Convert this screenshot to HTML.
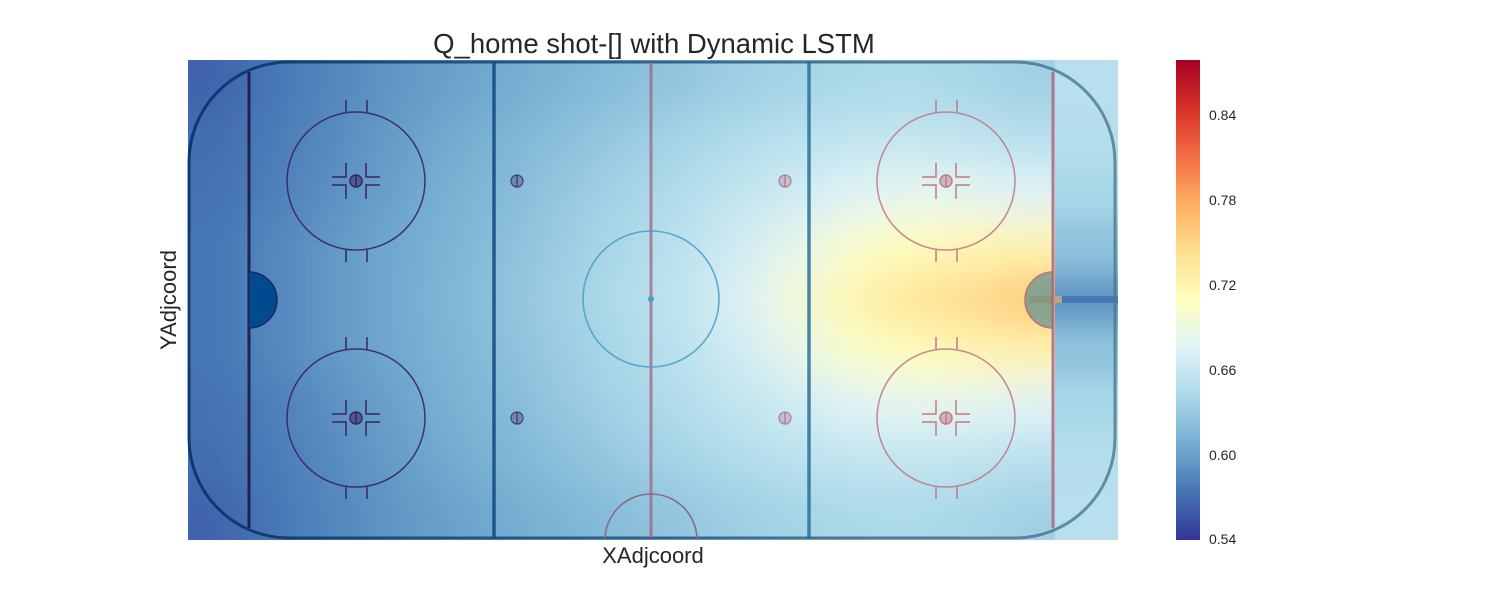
<!DOCTYPE html>
<html><head><meta charset="utf-8"><style>
body{margin:0;background:#fff;font-family:"Liberation Sans",sans-serif}
svg text{font-family:"Liberation Sans",sans-serif}
</style></head><body>
<svg id="chart" width="1500" height="600" xmlns="http://www.w3.org/2000/svg">
<defs>
<filter id="blur" x="60" y="-80" width="1130" height="760" filterUnits="userSpaceOnUse"><feGaussianBlur stdDeviation="22"/></filter>
<filter id="blur2" x="1000" y="-80" width="200" height="760" filterUnits="userSpaceOnUse"><feGaussianBlur stdDeviation="14"/></filter>
<clipPath id="mainClip"><rect x="188" y="60" width="867" height="480"/></clipPath>
<clipPath id="netClip"><rect x="1055" y="60" width="63" height="480"/></clipPath>
<linearGradient id="cbar" x1="0" y1="1" x2="0" y2="0">
<stop offset="0" stop-color="#313695"/><stop offset="0.1" stop-color="#4575b4"/><stop offset="0.2" stop-color="#74add1"/><stop offset="0.3" stop-color="#abd9e9"/><stop offset="0.4" stop-color="#e0f3f8"/><stop offset="0.5" stop-color="#ffffbf"/><stop offset="0.6" stop-color="#fee090"/><stop offset="0.7" stop-color="#fdae61"/><stop offset="0.8" stop-color="#f46d43"/><stop offset="0.9" stop-color="#d73027"/><stop offset="1" stop-color="#a50026"/>
</linearGradient>
<linearGradient id="boardGrad" x1="0" y1="0" x2="1" y2="0">
<stop offset="0" stop-color="#002a60"/><stop offset="0.5" stop-color="#1a4a7a"/><stop offset="1" stop-color="#4a7a90"/>
</linearGradient>
</defs>
<text x="654" y="53" text-anchor="middle" font-size="27.5" fill="#262626">Q_home shot-[] with Dynamic LSTM</text>
<g id="heat"></g>
<g id="rink" fill="none">
<rect x="189" y="62" width="926" height="476" rx="100" stroke="url(#boardGrad)" stroke-width="3" opacity="0.8"/>
<line x1="249" y1="72" x2="249" y2="528" stroke="#1e1040" stroke-width="3" opacity="0.85"/>
<line x1="1053" y1="72" x2="1053" y2="528" stroke="#b06a80" stroke-width="3" opacity="0.9"/>
<line x1="494" y1="62" x2="494" y2="538" stroke="#0d4a80" stroke-width="3.5" opacity="0.85"/>
<line x1="809" y1="62" x2="809" y2="538" stroke="#1e6a96" stroke-width="3.5" opacity="0.8"/>
<line x1="651" y1="62" x2="651" y2="538" stroke="#a05c78" stroke-width="3" opacity="0.7"/>
<circle cx="651" cy="299" r="68" stroke="#4a9ec4" stroke-width="1.6" opacity="0.85"/>
<circle cx="651" cy="299" r="3" fill="#4a9ec4"/>
<path d="M605 540 A46 46 0 0 1 697 540" stroke="#8a6a88" stroke-width="1.6"/>
<path d="M249 272 A28 28 0 0 1 249 328 Z" fill="#004a90" stroke="#1a2a60" stroke-width="1.5"/>
<path d="M1053 272 A28 28 0 0 0 1053 328 Z" fill="#2a7a90" fill-opacity="0.55" stroke="#c07070" stroke-width="1.5"/>
</g>
<g>
<rect x="1176" y="60" width="24" height="480" fill="url(#cbar)"/>
<g id="cticks" font-size="14" fill="#262626"></g>
</g>
<text x="653" y="563" text-anchor="middle" font-size="22" fill="#262626">XAdjcoord</text>
<text x="176" y="300" text-anchor="middle" font-size="22" fill="#262626" transform="rotate(-90 176 300)">YAdjcoord</text>
</svg>
<script>
// value grid across rink (rows top→bottom, columns left→right up to goal line)
const row0 = [0.565,0.575,0.584,0.593,0.600,0.607,0.614,0.620,0.627,0.633,0.638,0.642,0.643,0.640,0.635];
const row1 = [0.570,0.578,0.587,0.597,0.606,0.614,0.622,0.630,0.638,0.645,0.652,0.656,0.658,0.655,0.650];
const row2 = [0.572,0.580,0.590,0.600,0.610,0.618,0.628,0.637,0.646,0.656,0.665,0.675,0.680,0.680,0.675];
const row3 = [0.575,0.585,0.595,0.605,0.613,0.622,0.632,0.642,0.652,0.665,0.682,0.702,0.712,0.718,0.722];
const row4 = [0.575,0.585,0.595,0.605,0.615,0.625,0.635,0.645,0.655,0.672,0.695,0.722,0.738,0.748,0.760];
const row5 = [0.575,0.585,0.595,0.605,0.613,0.622,0.632,0.642,0.652,0.665,0.682,0.702,0.712,0.718,0.722];
const row6 = [0.572,0.580,0.590,0.600,0.610,0.618,0.628,0.637,0.646,0.656,0.665,0.675,0.680,0.680,0.675];
const row7 = [0.570,0.578,0.587,0.597,0.606,0.614,0.622,0.630,0.638,0.645,0.652,0.656,0.658,0.655,0.650];
const row8 = [0.565,0.575,0.584,0.593,0.600,0.607,0.614,0.620,0.627,0.633,0.638,0.642,0.643,0.640,0.635];
const behindNet = [0.650,0.648,0.640,0.625,0.595,0.625,0.640,0.648,0.650];
const streakValue = 0.575;
const hotSpotValue = 0.78;
const tickValues = [0.54,0.60,0.66,0.72,0.78,0.84];
const vmin = 0.54, vmax = 0.879;

const rows=[row0,row1,row2,row3,row4,row5,row6,row7,row8];
const stops=["#313695","#4575b4","#74add1","#abd9e9","#e0f3f8","#ffffbf","#fee090","#fdae61","#f46d43","#d73027","#a50026"].map(h=>[1,3,5].map(i=>parseInt(h.substr(i,2),16)));
function color(v){let t=Math.max(0,Math.min(1,(v-vmin)/(vmax-vmin)))*10;let i=Math.min(9,Math.floor(t)),f=t-i;const a=stops[i],b=stops[i+1];return `rgb(${a.map((c,k)=>Math.round(c+(b[k]-c)*f)).join(',')})`;}
const NS="http://www.w3.org/2000/svg";
const heat=document.getElementById('heat');
const PX0=188,PY0=60,PH=480,GX=1055,PAD=90;
const gMain=document.createElementNS(NS,'g');gMain.setAttribute('clip-path','url(#mainClip)');
const gBlur=document.createElementNS(NS,'g');gBlur.setAttribute('filter','url(#blur)');
const nC=row0.length,nR=rows.length;
const cw=(GX-PX0)/nC,ch=PH/nR;
rows.forEach((r,ri)=>r.forEach((v,ci)=>{const e=document.createElementNS(NS,'rect');
let x=PX0+ci*cw-0.5,w=cw+1,y=PY0+ri*ch-0.5,h=ch+1;
if(ci===0){x-=PAD;w+=PAD;} if(ci===nC-1){w+=PAD;}
if(ri===0){y-=PAD;h+=PAD;} if(ri===nR-1){h+=PAD;}
e.setAttribute('x',x);e.setAttribute('y',y);e.setAttribute('width',w);e.setAttribute('height',h);e.setAttribute('fill',color(v));


gBlur.appendChild(e);}));
gMain.appendChild(gBlur);heat.appendChild(gMain);
const gNet=document.createElementNS(NS,'g');gNet.setAttribute('clip-path','url(#netClip)');
const gB2=document.createElementNS(NS,'g');gB2.setAttribute('filter','url(#blur2)');
const bh=PH/behindNet.length;
behindNet.forEach((v,i)=>{const e=document.createElementNS(NS,'rect');
let y=PY0+i*bh-0.5,h=bh+1;if(i===0){y-=PAD;h+=PAD;} if(i===behindNet.length-1){h+=PAD;}
e.setAttribute('x',GX-40);e.setAttribute('y',y);e.setAttribute('width',63+80);e.setAttribute('height',h);e.setAttribute('fill',color(v));


gB2.appendChild(e);});
gNet.appendChild(gB2);
const st=document.createElementNS(NS,'rect');st.setAttribute('x',1062);st.setAttribute('y',296);st.setAttribute('width',56);st.setAttribute('height',7);st.setAttribute('fill',color(streakValue));


gNet.appendChild(st);heat.appendChild(gNet);
const hs=document.createElementNS(NS,'rect');hs.setAttribute('x',1030);hs.setAttribute('y',296);hs.setAttribute('width',32);hs.setAttribute('height',7);hs.setAttribute('fill',color(hotSpotValue));hs.setAttribute('opacity','0.6');


heat.appendChild(hs);
// rink details
const rink=document.getElementById('rink');
function el(tag,attrs,name){const e=document.createElementNS(NS,tag);for(const k in attrs)e.setAttribute(k,attrs[k]);


rink.appendChild(e);return e;}
[[356,181,'#3a2462'],[356,418,'#3a2462'],[946,181,'#c07a88'],[946,418,'#c07a88']].forEach(([cx,cy,c])=>{
el('circle',{cx,cy,r:69,stroke:c,'stroke-width':1.5,opacity:0.9},'faceoff-circle');
el('circle',{cx,cy,r:6,fill:c,'fill-opacity':0.5,stroke:c,'stroke-width':1.5},'faceoff-dot');
el('line',{x1:cx,y1:cy-6,x2:cx,y2:cy+6,stroke:c,'stroke-width':1.5},'faceoff-dot-line');
let d='';[-1,1].forEach(s=>{d+=`M${cx-10} ${cy-69*s}V${cy-69*s-12*s}M${cx+11} ${cy-69*s}V${cy-69*s-12*s}`;});
[[-1,-1],[1,-1],[-1,1],[1,1]].forEach(([sx,sy])=>{d+=`M${cx+sx*24} ${cy+sy*4}H${cx+sx*10}V${cy+sy*18}`;});
el('path',{d,stroke:c,'stroke-width':1.5},'hash-marks');
});
[[517,181,'#3a2462'],[517,418,'#3a2462'],[785,181,'#b06a80'],[785,418,'#b06a80']].forEach(([cx,cy,c])=>{
el('circle',{cx,cy,r:6,fill:c,'fill-opacity':0.4,stroke:c,'stroke-width':1.3,opacity:0.8},'neutral-zone-dot');
el('line',{x1:cx,y1:cy-6,x2:cx,y2:cy+6,stroke:c,'stroke-width':1.3,opacity:0.8},'neutral-zone-dot-line');});
const ct=document.getElementById('cticks');
tickValues.forEach(v=>{const y=540-(v-vmin)/(vmax-vmin)*480;const t=document.createElementNS(NS,'text');t.setAttribute('x',1209);t.setAttribute('y',Math.min(y+5,544));t.textContent=v.toFixed(2);


ct.appendChild(t);});
</script>
</body></html>
